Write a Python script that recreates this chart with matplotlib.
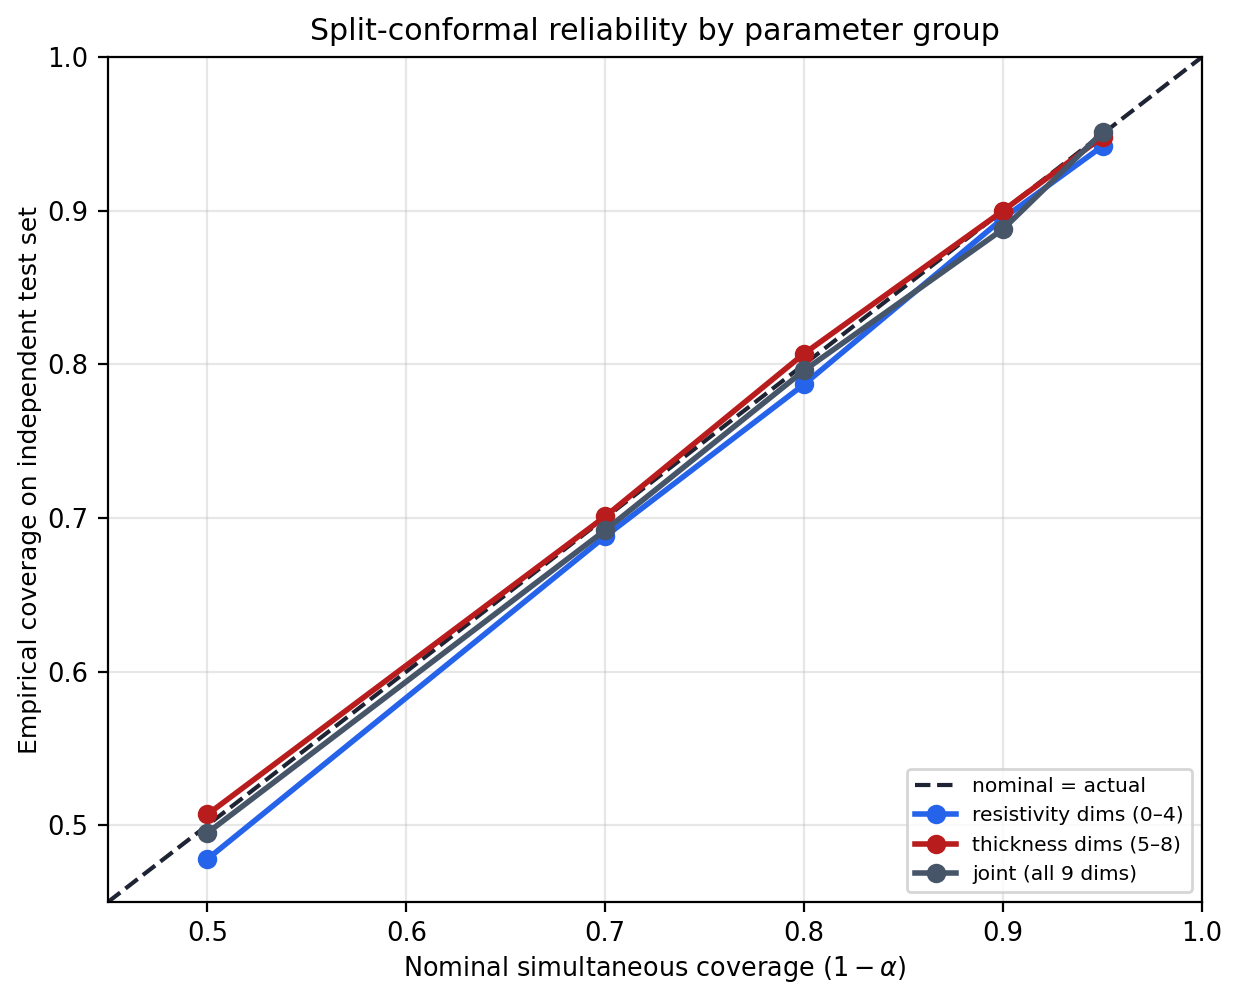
import numpy as np
import matplotlib
matplotlib.use("Agg")
import matplotlib.pyplot as plt

# nominal coverage levels and empirical coverage per group
nominal = [0.5, 0.7, 0.8, 0.9, 0.95]
resistivity = [0.478, 0.688, 0.787, 0.895, 0.942]
thickness = [0.507, 0.701, 0.807, 0.900, 0.948]
joint = [0.495, 0.692, 0.796, 0.888, 0.951]

fig, ax = plt.subplots(figsize=(6.205, 5), dpi=200)

ax.plot([0.45, 1.0], [0.45, 1.0], "--", color="#1e2433", lw=1.5, label="nominal = actual")
ax.plot(nominal, resistivity, "-o", color="#2563eb", lw=2, ms=6, label="resistivity dims (0\u20134)")
ax.plot(nominal, thickness, "-o", color="#b91c1c", lw=2, ms=6, label="thickness dims (5\u20138)")
ax.plot(nominal, joint, "-o", color="#475569", lw=2, ms=6, label="joint (all 9 dims)")

ax.set_xlim(0.45, 1.0)
ax.set_ylim(0.45, 1.0)
ax.set_xlabel(r"Nominal simultaneous coverage $(1-\alpha)$", fontsize=9.2, labelpad=2.5)
ax.set_ylabel("Empirical coverage on independent test set", fontsize=9.0, labelpad=2)
ax.set_title("Split-conformal reliability by parameter group", fontsize=10.8)
ax.tick_params(labelsize=9.3)
ax.grid(True, alpha=0.3)
ax.legend(loc="lower right", fontsize=7.3)

fig.subplots_adjust(left=0.087, right=0.9686, top=0.943, bottom=0.098)
fig.savefig("out.png", dpi=200)
